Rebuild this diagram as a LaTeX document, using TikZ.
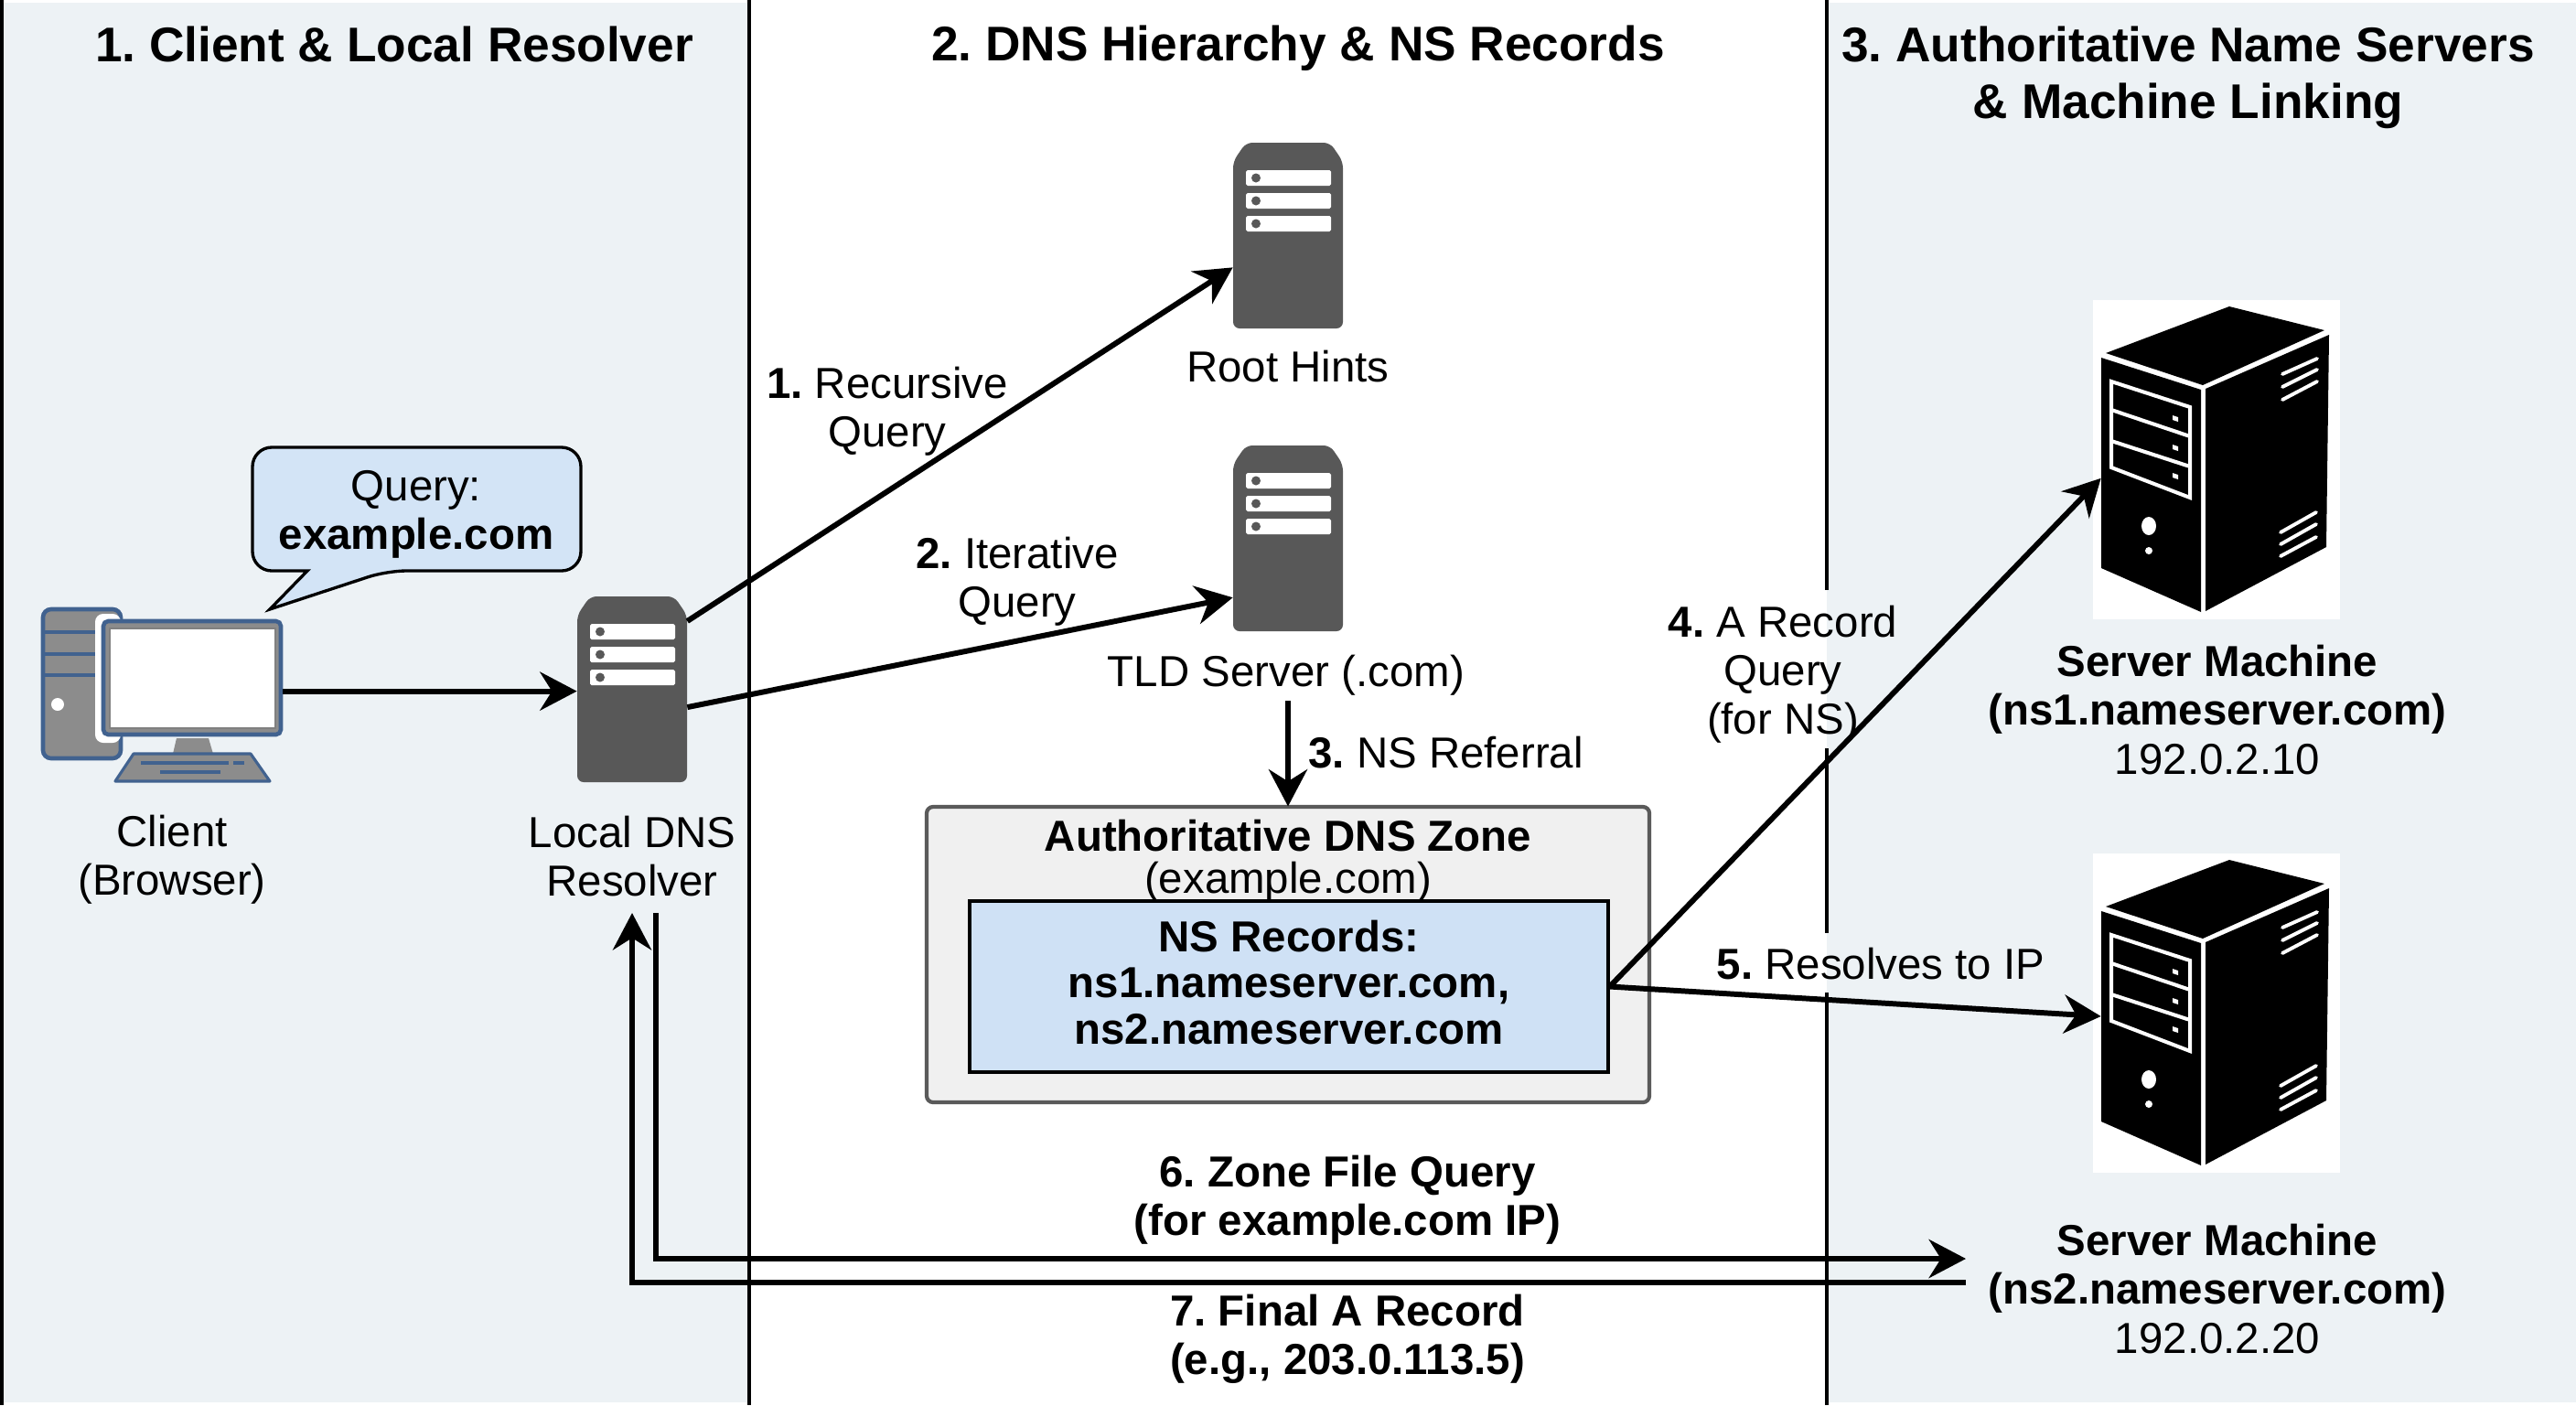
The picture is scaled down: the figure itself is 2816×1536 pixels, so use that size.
\documentclass[tikz,border=0pt]{standalone}
\usepackage{fontspec}
\setmainfont{Liberation Sans}
\usetikzlibrary{arrows.meta}
\frenchspacing
\definecolor{panelbg}{HTML}{EDF2F5}
\definecolor{bubblebg}{HTML}{D3E4F6}
\definecolor{recordbg}{HTML}{CFE1F5}
\definecolor{zonebg}{HTML}{F0F0F0}
\definecolor{zoneedge}{HTML}{5A5A5A}
\definecolor{rackgray}{HTML}{585858}
\definecolor{pcblue}{HTML}{41628F}
\definecolor{pcgray}{HTML}{8C8C8C}
\tikzset{
  lbl/.style={font=\fontsize{27}{30.2}\selectfont, align=center, inner sep=0pt},
  boldlbl/.style={lbl, font=\fontsize{27}{30.2}\selectfont\bfseries},
  headline/.style={font=\fontsize{30.3}{35}\selectfont\bfseries, align=center, inner sep=0pt},
  flow/.style={draw=black, line width=3.4pt, -{Stealth[length=23pt,width=24pt]}},
  rackbox/.style={minimum width=68.3pt, minimum height=115.5pt, inner sep=0pt},
  pcpart/.style={fill=pcgray, draw=pcblue, line width=2.6pt},
  towerline/.style={draw=white, line width=2.3pt},
}

\begin{document}
\begin{tikzpicture}[x=0.02cm, y=-0.02cm]
  \useasboundingbox (0,0) rectangle (2816,1536);
  \fill[white] (0,0) rectangle (2816,1536);
  \fill[panelbg] (0,3) rectangle (819,1533);
  \fill[panelbg] (1997,3) rectangle (2816,1533);
  \draw[line width=2.8pt] (2,0) -- (2,1536);
  \draw[line width=2.2pt] (819,0) -- (819,1536);
  \draw[line width=2.2pt] (1997,0) -- (1997,645);
  \draw[line width=2.2pt] (1997,818) -- (1997,1020);
  \draw[line width=2.2pt] (1997,1085) -- (1997,1536);

  \node[headline] (title1) at (431,48) {1. Client \& Local Resolver};
  \node[headline] (title2) at (1419,53) {2. DNS Hierarchy \& NS Records};
  \node[headline] (title3) at (2392,85) {3. Authoritative Name Servers\\\& Machine Linking};

  % client computer
  \draw[pcpart, rounded corners=5pt] (47,666) rectangle (132,829);
  \foreach \ly in {691,715,738}
    \draw[pcblue, line width=2.6pt] (47,\ly) -- (112,\ly);
  \fill[white] (63,770) circle (7);
  \fill[white, rounded corners=5pt] (104,671) rectangle (132,812);
  \draw[pcpart, rounded corners=3pt] (113,679) rectangle (307,803);
  \draw[fill=white, draw=gray, line width=1.2pt] (120,687) rectangle (301,796);
  \node[minimum width=112.7pt, minimum height=72.8pt, inner sep=0pt] (monitor) at (210,741) {};
  \fill[pcgray] (193,807) -- (228,807) -- (233,824) -- (189,824) -- cycle;
  \draw[pcpart, line width=1.8pt, line join=round] (146,824) -- (274,824) -- (295,854) -- (126,854) -- cycle;
  \draw[pcblue, line width=2pt] (154,834) -- (250,834);
  \draw[pcblue, line width=2pt] (255,834) -- (267,834);
  \draw[pcblue, line width=2pt] (175,844) -- (241,844);
  \node[lbl] (clientlabel) at (188,940) {Client\\(Browser)};

  % query bubble
  \draw[fill=bubblebg, line width=1.9pt, line join=miter, rounded corners=12pt]
    (276,489) -- (635,489) -- (635,624) -- (423,624) [sharp corners] -- (295,666) -- (336,624)
    [rounded corners=12pt] -- (276,624) -- cycle;
  \node[lbl] (bubble) at (455,562) {Query:\\\textbf{example.com}};

  % racks
  \foreach \rackname/\rx/\ry in {resolver/691/753.5, rootsrv/1408/257.5, tldsrv/1408/588.5} {
    \begin{scope}[shift={(\rx,\ry)}]
      \fill[rackgray, rounded corners=4pt] (0,-101.5) -- (46,-101.5) -- (60,-81) -- (60,101.5)
        -- (-60,101.5) -- (-60,-81) -- (-46,-101.5) -- cycle;
      \foreach \sy in {-71.5,-46.5,-21.5} {
        \fill[white, rounded corners=1pt] (-46,\sy) rectangle (47,\sy+17);
        \fill[rackgray] (-35,\sy+8.5) circle (5);
      }
      \node[rackbox] (\rackname) at (0,0) {};
    \end{scope}
  }
  \node[lbl] (resolverlabel) at (691,936) {Local DNS\\Resolver};
  \node[lbl] (rootlabel) at (1408,401) {Root Hints};
  \node[lbl] (tldlabel) at (1406,738) {TLD Server (.com)};

  % zone box
  \draw[fill=zonebg, draw=zoneedge, line width=2.4pt, rounded corners=4pt] (1013,882) rectangle (1803,1205);
  \node[minimum width=449.5pt, minimum height=184pt, inner sep=0pt] (zonebox) at (1408,1043.5) {};
  \node[boldlbl] (zonetitle) at (1408,914) {Authoritative DNS Zone};
  \node[lbl] (zonename) at (1408,964) {(example.com)};
  \node[draw=black, fill=recordbg, line width=2.2pt, minimum width=397pt, minimum height=106pt, inner sep=0pt] (nsbox) at (1409,1078.5) {};
  \node[boldlbl, font=\fontsize{27}{28.6}\selectfont\bfseries] (nstext) at (1409,1074)
    {NS Records:\\ns1.nameserver.com,\\ns2.nameserver.com};

  % server machines
  \foreach \tname/\ty in {tower1/0, tower2/605} {
    \begin{scope}[shift={(0,\ty)}]
      \fill[white] (2288,328) rectangle (2558,677);
      \fill[black] (2302,386) -- (2437,335) -- (2541,361) -- (2408,421) -- cycle;
      \fill[black] (2297,391) -- (2406,426) -- (2406,669) -- (2297,621) -- cycle;
      \fill[black] (2411,425) -- (2546,366) -- (2543,598) -- (2411,668) -- cycle;
      \draw[towerline] (2308,417) -- (2394,445) -- (2394,544) -- (2308,511) -- cycle;
      \draw[towerline] (2308,448) -- (2394,477);
      \draw[towerline] (2308,482) -- (2394,510);
      \foreach \led in {457,489,520}
        \fill[white] (2375,\led-3) -- (2381,\led-1) -- (2381,\led+4) -- (2375,\led+2) -- cycle;
      \fill[white] (2349,575) ellipse (8 and 10);
      \fill[white] (2349,602) circle (4);
      \foreach \va/\vb in {409/392,423/404,437/417}
        \draw[white, line width=2.2pt, line cap=round] (2495,\va) -- (2533,\vb);
      \foreach \va/\vb in {582/560,595/573,608/587}
        \draw[white, line width=2.2pt, line cap=round] (2493,\va) -- (2532,\vb);
      \node[minimum width=62pt, minimum height=131pt, inner sep=0pt] (\tname) at (2351.5,506) {};
    \end{scope}
  }
  \node[lbl] (ns1label) at (2424,776)
    {\textbf{Server Machine}\\\textbf{(ns1.nameserver.com)}\\192.0.2.10};
  \node[lbl] (ns2label) at (2424,1409)
    {\textbf{Server Machine}\\\textbf{(ns2.nameserver.com)}\\192.0.2.20};

  % step labels
  \node[lbl] (step1) at (970,450) {\textbf{1.} Recursive\\Query};
  \node[lbl] (step2) at (1112,636) {\textbf{2.} Iterative\\Query};
  \node[lbl, anchor=west] (step3) at (1430,823) {\textbf{3.} NS Referral};
  \node[lbl] (step4) at (1949,737) {\textbf{4.} A Record\\Query\\(for NS)};
  \node[lbl] (step5) at (2056,1054) {\textbf{5.} Resolves to IP};
  \node[boldlbl] (step6) at (1473,1312) {6. Zone File Query\\(for example.com IP)};
  \node[boldlbl] (step7) at (1473,1464) {7. Final A Record\\(e.g., 203.0.113.5)};

  % connectors
  \coordinate (backin) at (691,998);
  \coordinate (backout) at (717,998);
  \coordinate (ns2in) at (2149,1376);
  \coordinate (ns2out) at (2149,1402);
  \draw[flow] (monitor.east |- resolver.182) -- (resolver.182);
  \draw[flow] (resolver.51) -- (rootsrv.210);
  \draw[flow] (resolver.-18) -- (tldsrv.-133);
  \draw[flow] (tldlabel.south -| zonebox.north) ++(0,6) -- (zonebox.north);
  \draw[flow] (nsbox.east) -- (tower1.197);
  \draw[flow] (nsbox.east) -- (tower2.west);
  \draw[flow] (backout) -- (backout |- ns2in) -- (ns2in);
  \draw[flow] (ns2out) -- (backin |- ns2out) -- (backin);
\end{tikzpicture}
\end{document}
